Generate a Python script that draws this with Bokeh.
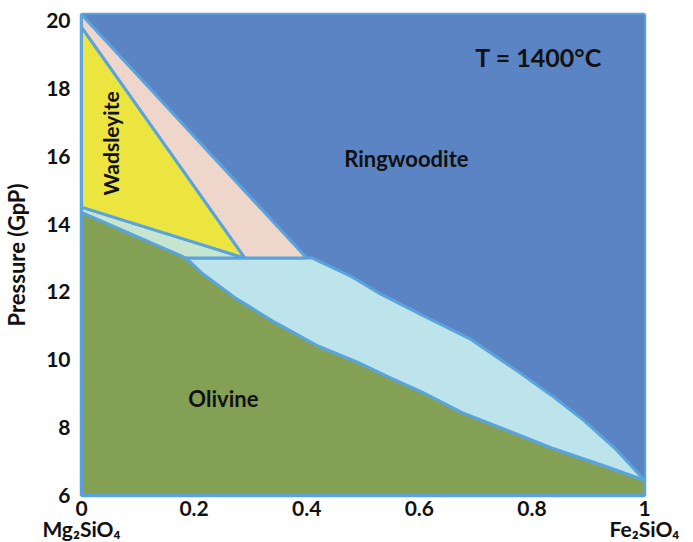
from math import pi
from bokeh.plotting import figure
from bokeh.models import Range1d, Label, FixedTicker
from bokeh.embed import file_html
from bokeh.resources import INLINE

# ---- axis data ----
x_ticks = [0, 0.2, 0.4, 0.6, 0.8, 1]
x_tick_labels = ["0\nMg₂SiO₄", "0.2", "0.4", "0.6", "0.8", "1\nFe₂SiO₄"]
p_ticks = [6, 8, 10, 12, 14, 16, 18, 20]
p_tick_labels = ["6", "8", "10", "12", "14", "16", "18", "20"]
x_min, x_max = 0.0, 1.0
p_min, p_max = 6.0, 20.18

# ---- phase fields (x = Fe2SiO4 fraction, p = pressure GPa) ----
ringwoodite_x = [0, 1, 1, 0]
ringwoodite_p = [6.0, 6.0, 20.18, 20.18]

wad_ring_x = [0, 0, 0.29, 0.40]
wad_ring_p = [20.18, 19.8, 13.0, 13.0]

wadsleyite_x = [0, 0, 0.29]
wadsleyite_p = [19.8, 14.5, 13.0]

wad_ol_x = [0, 0.29, 0.186, 0]
wad_ol_p = [14.5, 13.0, 13.0, 14.35]

# olivine upper boundary (olivine / olivine+ringwoodite)
olivine_bound_x = [0, 0.186, 0.213, 0.272, 0.343, 0.421, 0.49, 0.545, 0.605, 0.675, 0.76, 0.835, 0.924, 1.0]
olivine_bound_p = [14.35, 13.0, 12.57, 11.84, 11.11, 10.40, 9.93, 9.50, 9.05, 8.45, 7.90, 7.40, 6.90, 6.45]

# ringwoodite lower boundary (olivine+ringwoodite / ringwoodite)
ring_bound_x = [0.186, 0.41, 0.48, 0.53, 0.605, 0.69, 0.78, 0.835, 0.893, 0.947, 1.0]
ring_bound_p = [13.0, 13.0, 12.45, 11.95, 11.32, 10.62, 9.60, 8.95, 8.20, 7.40, 6.45]

phase_names = ["Wadsleyite", "Ringwoodite", "Olivine"]
temperature_label = "T = 1400°C"

# ---- colours ----
c_ring = "#5B84C4"
c_olivine = "#83A055"
c_wad = "#ECE53F"
c_wad_ring = "#EED6CA"
c_wad_ol = "#C6E5CF"
c_ol_ring = "#BDE4EA"
c_edge = "#5AA3DD"
ink = "#111111"
font = "Lato"

p = figure(frame_width=563, frame_height=481, output_backend="svg", toolbar_location=None,
           x_range=Range1d(x_min, x_max), y_range=Range1d(p_min, p_max),
           min_border_left=80, min_border_right=47, min_border_top=14, min_border_bottom=46)
p.grid.visible = False
p.background_fill_color = c_ring
p.outline_line_color = c_edge
p.outline_line_width = 3.5

lw = 3
p.patch(ringwoodite_x, ringwoodite_p, fill_color=c_ring, line_color=None)

ol_x = [x_min] + olivine_bound_x + [x_max]
ol_p = [p_min] + olivine_bound_p + [p_min]
p.patch(ol_x, ol_p, fill_color=c_olivine, line_color=c_edge, line_width=lw)

olr_x = ring_bound_x + olivine_bound_x[1:-1][::-1]
olr_p = ring_bound_p + olivine_bound_p[1:-1][::-1]
p.patch(olr_x, olr_p, fill_color=c_ol_ring, line_color=c_edge, line_width=lw)

p.patch(wad_ol_x, wad_ol_p, fill_color=c_wad_ol, line_color=c_edge, line_width=lw)
p.patch(wad_ring_x, wad_ring_p, fill_color=c_wad_ring, line_color=c_edge, line_width=lw)
p.patch(wadsleyite_x, wadsleyite_p, fill_color=c_wad, line_color=c_edge, line_width=lw)

# ---- axes ----
for ax in (p.xaxis[0], p.yaxis[0]):
    ax.axis_line_color = None
    ax.major_tick_line_color = None
    ax.minor_tick_line_color = None
    ax.major_label_text_font = font
    ax.major_label_text_font_style = "bold"
    ax.major_label_text_font_size = "21px"
    ax.major_label_text_color = ink

p.xaxis.ticker = FixedTicker(ticks=x_ticks)
p.xaxis.major_label_overrides = dict(zip(x_ticks, x_tick_labels))
p.xaxis.major_label_standoff = -7
p.xaxis.major_label_text_line_height = 0.85

p.yaxis.ticker = FixedTicker(ticks=p_ticks)
p.yaxis.major_label_overrides = dict(zip(p_ticks, p_tick_labels))
p.yaxis.major_label_standoff = 5
p.yaxis.axis_label = "Pressure (GpP)"
p.yaxis.axis_label_text_font = font
p.yaxis.axis_label_text_font_style = "bold"
p.yaxis.axis_label_text_font_size = "22px"
p.yaxis.axis_label_text_color = ink
p.yaxis.axis_label_standoff = 13

def lab(x, y, text, size, angle=0):
    p.add_layout(Label(x=x, y=y, text=text, angle=angle, text_font=font,
                       text_font_style="bold", text_font_size=size, text_color=ink,
                       text_align="center", text_baseline="middle"))

lab(0.052, 16.38, phase_names[0], "21px", angle=pi / 2)
lab(0.577, 15.935, phase_names[1], "22px")
lab(0.252, 8.86, phase_names[2], "22px")
lab(0.812, 18.94, temperature_label, "25px")

open("out.html", "w").write(file_html(p, INLINE))
